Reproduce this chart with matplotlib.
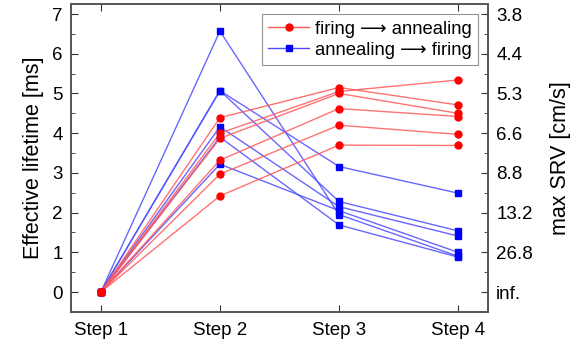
import matplotlib
matplotlib.use("Agg")
import matplotlib.pyplot as plt
from matplotlib.ticker import MultipleLocator

plt.rcParams['font.family'] = ['Liberation Sans', 'DejaVu Sans']

steps = ["Step 1", "Step 2", "Step 3", "Step 4"]

# firing -> annealing (red)
red_series = [
    [0, 4.39, 5.15, 4.71],
    [0, 4.00, 5.05, 5.34],
    [0, 3.87, 5.00, 4.50],
    [0, 3.32, 4.62, 4.42],
    [0, 2.97, 4.20, 3.97],
    [0, 2.42, 3.70, 3.69],
]
# annealing -> firing (blue)
blue_series = [
    [0, 6.57, 1.95, 0.90],
    [0, 5.07, 3.16, 2.49],
    [0, 5.07, 2.28, 1.54],
    [0, 4.16, 2.15, 1.41],
    [0, 3.90, 1.69, 0.88],
    [0, 3.22, 2.05, 1.00],
]
right_labels = ["inf.", "26.8", "13.2", "8.8", "6.6", "5.3", "4.4", "3.8"]
ylabel_left = "Effective lifetime [ms]"
ylabel_right = "max SRV [cm/s]"
legend_labels = ["firing \u27f6 annealing", "annealing \u27f6 firing"]

red_line = (1.0, 0.35, 0.35)
blue_line = (0.3, 0.3, 1.0)

fig = plt.figure(figsize=(5.78, 3.42), dpi=100)
ax = fig.add_axes([0.123, 0.088, 0.721, 0.900])
x = list(range(1, len(steps) + 1))

for s in blue_series:
    ax.plot(x, s, color=blue_line, lw=1.0, alpha=0.85, zorder=2)
    ax.plot(x, s, ls='none', marker='s', ms=4.5, color='#0000ff', zorder=3)
for s in red_series:
    ax.plot(x, s, color=red_line, lw=1.0, alpha=0.85, zorder=2)
    ax.plot(x, s, ls='none', marker='o', ms=5, color='#ff0000', zorder=3)

h1, = ax.plot([], [], color=red_line, lw=1.0, marker='o', ms=5,
              mfc='#ff0000', mec='#ff0000')
h2, = ax.plot([], [], color=blue_line, lw=1.0, marker='s', ms=4.5,
              mfc='#0000ff', mec='#0000ff')
leg = ax.legend([h1, h2], legend_labels, loc='upper right',
                bbox_to_anchor=(0.976, 0.967), fontsize=13.3, frameon=True,
                fancybox=False, edgecolor='#777777', borderpad=0.35,
                labelspacing=0.22, handlelength=2.2, handletextpad=0.3,
                borderaxespad=0.0)
leg.get_frame().set_linewidth(0.8)

ax.set_xlim(0.75, 4.25)
ax.set_ylim(-0.5, 7.25)
ax.set_xticks(x)
ax.set_xticklabels(steps)
ax.set_yticks(range(0, 8))
ax.yaxis.set_minor_locator(MultipleLocator(0.5))
ax.tick_params(axis='both', which='major', direction='in', length=5,
               labelsize=13.5, top=True, color='#333333', pad=6)
ax.tick_params(axis='y', which='minor', direction='in', length=3,
               color='#333333')
ax.tick_params(axis='x', pad=7)
ax.set_ylabel(ylabel_left, fontsize=15.5, labelpad=6)

ax2 = ax.twinx()
ax2.set_ylim(ax.get_ylim())
ax2.set_yticks(range(0, 8))
ax2.set_yticklabels(right_labels)
ax2.yaxis.set_minor_locator(MultipleLocator(0.5))
ax2.tick_params(axis='y', which='major', direction='in', length=5,
                labelsize=13.5, color='#333333', pad=6)
ax2.tick_params(axis='y', which='minor', direction='in', length=3,
                color='#333333')
ax2.set_ylabel(ylabel_right, fontsize=15.5, labelpad=12)

for a in (ax, ax2):
    for sp in a.spines.values():
        sp.set_color('#555555')
        sp.set_linewidth(1.2)

fig.savefig("out.png", dpi=100)
